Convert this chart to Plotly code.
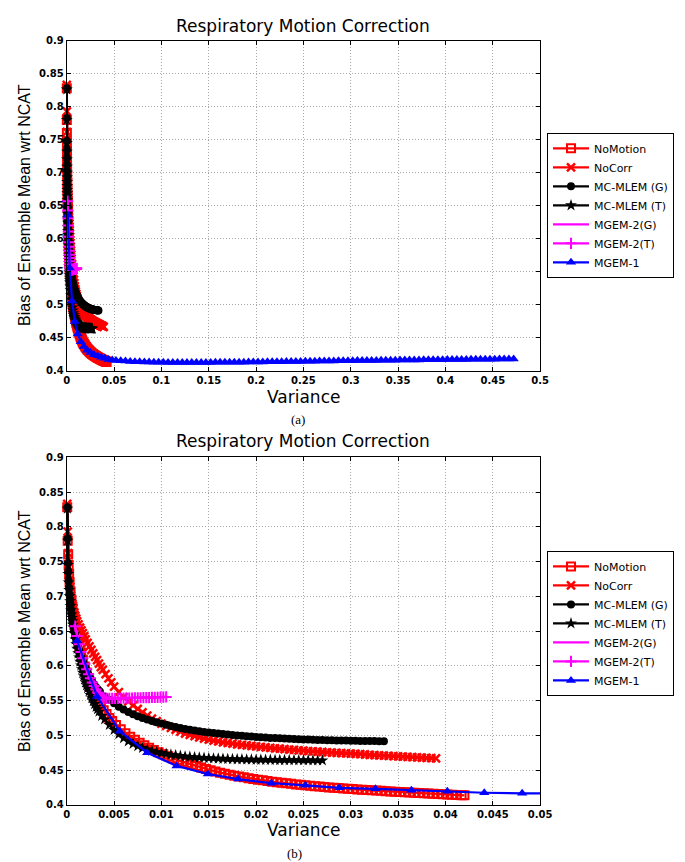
import plotly.graph_objects as go

# ---------------- data ----------------
nomotion_x = [0.00005, 0.0001, 0.00015, 0.0002, 0.00025, 0.0003, 0.0004, 0.0005, 0.0006, 0.0007,
              0.0008, 0.0009, 0.00105, 0.0012, 0.00135, 0.0015, 0.0017, 0.0019, 0.0021, 0.0023,
              0.00255, 0.0028, 0.00305, 0.0033, 0.0036, 0.0039, 0.0042, 0.0045, 0.0048,
              0.0052, 0.0057, 0.0062, 0.0067, 0.0072, 0.0077, 0.0082, 0.0087, 0.0092, 0.0097,
              0.0102, 0.0107, 0.0112, 0.0117, 0.0122, 0.0127, 0.0132, 0.0137, 0.0142, 0.0147,
              0.0152, 0.0157, 0.0162, 0.0167, 0.0172, 0.0177, 0.0182, 0.0187, 0.0192, 0.0197,
              0.0202, 0.0207, 0.0212, 0.0217, 0.0222, 0.0227, 0.0232, 0.0237, 0.0242, 0.0247,
              0.0252, 0.0257, 0.0262, 0.0267, 0.0272, 0.0277, 0.0282, 0.0287, 0.0292, 0.0297,
              0.0302, 0.0307, 0.0312, 0.0317, 0.0322, 0.0327, 0.0332, 0.0337, 0.0342, 0.0347,
              0.0352, 0.0357, 0.0362, 0.0367, 0.0372, 0.0377, 0.0382, 0.0387, 0.0392, 0.0397,
              0.0402, 0.0407, 0.0412, 0.0417, 0.0420]
nomotion_y = [0.828, 0.780, 0.760, 0.745, 0.732, 0.720, 0.707, 0.695, 0.685, 0.675,
              0.666, 0.657, 0.647, 0.637, 0.628, 0.619, 0.609, 0.599, 0.5905, 0.582,
              0.573, 0.564, 0.556, 0.548, 0.542, 0.536, 0.5305, 0.525, 0.5207,
              0.515, 0.5086, 0.503, 0.498, 0.4936, 0.4894, 0.4856, 0.482, 0.4787, 0.4756,
              0.4726, 0.4698, 0.467, 0.4646, 0.4622, 0.46, 0.4578, 0.4557, 0.4536, 0.4515,
              0.4497, 0.4479, 0.4463, 0.4447, 0.4432, 0.4419, 0.4407, 0.4395, 0.4384, 0.4372,
              0.4362, 0.4352, 0.4342, 0.4333, 0.4325, 0.4317, 0.4309, 0.4302, 0.4294, 0.4288,
              0.4281, 0.4275, 0.4268, 0.4262, 0.4257, 0.4251, 0.4246, 0.4241, 0.4236, 0.4231,
              0.4227, 0.4222, 0.4218, 0.4213, 0.4209, 0.4205, 0.4201, 0.4197, 0.4193, 0.4189,
              0.4186, 0.4182, 0.4178, 0.4174, 0.4170, 0.4167, 0.4163, 0.4160, 0.4156, 0.4153,
              0.4149, 0.4146, 0.4142, 0.4139, 0.4137]

nocorr_x = [0.00005, 0.0001, 0.00015, 0.0002, 0.00025, 0.0003, 0.00035, 0.0004, 0.00045, 0.0005,
            0.0006, 0.0007, 0.0008, 0.0009, 0.001, 0.0011, 0.00125, 0.0014, 0.00155, 0.0017,
            0.00185, 0.002, 0.0022, 0.0024, 0.0026, 0.0028, 0.003, 0.0032, 0.0034, 0.0036,
            0.0038, 0.0041, 0.0044, 0.0047, 0.005,
            0.0055, 0.006, 0.0065, 0.007, 0.0075, 0.008, 0.0085, 0.009, 0.0095, 0.01,
            0.0105, 0.011, 0.0115, 0.012, 0.0125, 0.013, 0.0135, 0.014, 0.0145, 0.015,
            0.0155, 0.016, 0.0165, 0.017, 0.0175, 0.018, 0.0185, 0.019, 0.0195, 0.02,
            0.0205, 0.021, 0.0215, 0.022, 0.0225, 0.023, 0.0235, 0.024, 0.0245, 0.025,
            0.0255, 0.026, 0.0265, 0.027, 0.0275, 0.028, 0.0285, 0.029, 0.0295, 0.03,
            0.0305, 0.031, 0.0315, 0.032, 0.0325, 0.033, 0.0335, 0.034, 0.0345, 0.035,
            0.0355, 0.036, 0.0365, 0.037, 0.0375, 0.038, 0.0385, 0.039]
nocorr_y = [0.833, 0.793, 0.762, 0.742, 0.731, 0.722, 0.714, 0.707, 0.701, 0.695,
            0.689, 0.683, 0.677, 0.672, 0.668, 0.664, 0.6595, 0.655, 0.651, 0.647,
            0.6425, 0.638, 0.633, 0.628, 0.623, 0.618, 0.613, 0.608, 0.603, 0.598,
            0.594, 0.588, 0.582, 0.576, 0.570,
            0.562, 0.555, 0.5487, 0.543, 0.538, 0.533, 0.5283, 0.524, 0.5203, 0.5168,
            0.5136, 0.5108, 0.508, 0.5052, 0.5026, 0.5006, 0.4987, 0.4969, 0.4952, 0.4939,
            0.4925, 0.4913, 0.49, 0.489, 0.488, 0.4871, 0.4863, 0.4855, 0.4848, 0.484,
            0.4833, 0.4826, 0.4819, 0.4813, 0.4807, 0.4801, 0.4795, 0.479, 0.4784, 0.4779,
            0.4774, 0.4769, 0.4765, 0.476, 0.4756, 0.4752, 0.4748, 0.4744, 0.474, 0.4736,
            0.4732, 0.4728, 0.4724, 0.472, 0.4716, 0.4712, 0.4708, 0.4704, 0.47, 0.4697,
            0.4693, 0.4689, 0.4686, 0.4683, 0.4679, 0.4676, 0.4673, 0.4669]

mcmlem_g_x = [0.00007, 0.0001, 0.00013, 0.00016, 0.0002, 0.00025, 0.0003, 0.00035, 0.0004, 0.00045,
              0.0005, 0.0006, 0.0007, 0.0008, 0.0009, 0.001, 0.0011, 0.0012, 0.0013, 0.0014,
              0.00155, 0.0017, 0.00185, 0.002, 0.00215, 0.0023, 0.0025, 0.0027, 0.0029, 0.0031,
              0.0033, 0.0035,
              0.004, 0.0045, 0.005, 0.0055, 0.006, 0.0065, 0.007, 0.0075, 0.008, 0.0085,
              0.009, 0.0095, 0.01, 0.0105, 0.011, 0.0115, 0.012, 0.0125, 0.013, 0.0135,
              0.014, 0.0145, 0.015, 0.0155, 0.016, 0.0165, 0.017, 0.0175, 0.018, 0.0185,
              0.019, 0.0195, 0.02, 0.0205, 0.021, 0.0215, 0.022, 0.0225, 0.023, 0.0235,
              0.024, 0.0245, 0.025, 0.0255, 0.026, 0.0265, 0.027, 0.0275, 0.028, 0.0285,
              0.029, 0.0295, 0.03, 0.0305, 0.031, 0.0315, 0.032, 0.0325, 0.033, 0.0335]
mcmlem_g_y = [0.828, 0.783, 0.748, 0.735, 0.722, 0.712, 0.703, 0.695, 0.688, 0.681,
              0.675, 0.665, 0.657, 0.65, 0.644, 0.638, 0.6325, 0.627, 0.6225, 0.618,
              0.612, 0.606, 0.601, 0.596, 0.5915, 0.587, 0.582, 0.577, 0.573, 0.569,
              0.566, 0.563,
              0.556, 0.551, 0.546, 0.541, 0.537, 0.5337, 0.5303, 0.5275, 0.525, 0.5226,
              0.5205, 0.5187, 0.5169, 0.5151, 0.5135, 0.5119, 0.5104, 0.509, 0.5079, 0.5068,
              0.5058, 0.5049, 0.5041, 0.5033, 0.5026, 0.5018, 0.5011, 0.5005, 0.4998, 0.4992,
              0.4987, 0.4982, 0.4977, 0.4972, 0.4968, 0.4963, 0.496, 0.4956, 0.4953, 0.4949,
              0.4946, 0.4943, 0.4941, 0.4938, 0.4936, 0.4934, 0.4932, 0.493, 0.4928, 0.4926,
              0.4925, 0.4924, 0.4922, 0.4921, 0.492, 0.4919, 0.4918, 0.4917, 0.4916, 0.4916]

mcmlem_t_x = [0.00007, 0.0001, 0.00013, 0.00016, 0.0002, 0.00025, 0.0003, 0.00035, 0.0004, 0.00045,
              0.0005, 0.00055, 0.0006, 0.00065, 0.0007, 0.0008, 0.0009, 0.001, 0.0011, 0.0012,
              0.0013, 0.0014, 0.0015, 0.0016, 0.0017, 0.0018, 0.0019, 0.002, 0.0021, 0.0022,
              0.00235, 0.0025, 0.00265, 0.0028, 0.00295, 0.0031, 0.00325, 0.0034, 0.0037,
              0.004, 0.0045, 0.005, 0.0055, 0.006, 0.0065, 0.007, 0.0075, 0.008, 0.0085,
              0.009, 0.0095, 0.01, 0.0105, 0.011, 0.0115, 0.012, 0.0125, 0.013, 0.0135,
              0.014, 0.0145, 0.015, 0.0155, 0.016, 0.0165, 0.017, 0.0175, 0.018, 0.0185,
              0.019, 0.0195, 0.02, 0.0205, 0.021, 0.0215, 0.022, 0.0225, 0.023, 0.0235,
              0.024, 0.0245, 0.025, 0.0255, 0.026, 0.0265, 0.027]
mcmlem_t_y = [0.826, 0.780, 0.745, 0.732, 0.720, 0.709, 0.700, 0.693, 0.686, 0.680,
              0.674, 0.669, 0.664, 0.659, 0.655, 0.646, 0.638, 0.631, 0.6245, 0.618,
              0.612, 0.606, 0.6005, 0.595, 0.590, 0.585, 0.5805, 0.576, 0.572, 0.568,
              0.563, 0.558, 0.5535, 0.549, 0.545, 0.541, 0.5375, 0.534, 0.528,
              0.5228, 0.515, 0.5078, 0.5016, 0.496, 0.4914, 0.4876, 0.4844, 0.4818, 0.4795,
              0.4776, 0.4759, 0.4745, 0.4733, 0.4722, 0.4713, 0.4704, 0.4696, 0.469, 0.4684,
              0.4679, 0.4675, 0.4671, 0.4667, 0.4664, 0.4662, 0.4659, 0.4657, 0.4655, 0.4654,
              0.4652, 0.4651, 0.4649, 0.4648, 0.4647, 0.4646, 0.4645, 0.4644, 0.4644, 0.4643,
              0.4643, 0.4642, 0.4641, 0.4641, 0.464, 0.464, 0.4639]

mgem2_g_x = [0.0008, 0.0012, 0.0016, 0.002, 0.0024, 0.0028, 0.0032, 0.0036, 0.004, 0.0045,
             0.005, 0.0055, 0.006, 0.0065, 0.007, 0.0075, 0.008, 0.0085, 0.009, 0.0095,
             0.01, 0.0106]
mgem2_g_y = [0.66, 0.635, 0.615, 0.598, 0.585, 0.573, 0.563, 0.557, 0.5545, 0.554,
             0.5538, 0.5538, 0.554, 0.554, 0.5542, 0.5543, 0.5545, 0.5546, 0.5548, 0.555,
             0.5551, 0.5553]

mgem2_t_x = [0.0009, 0.0011, 0.0013, 0.0015, 0.0017, 0.0019, 0.0021, 0.0023, 0.0025, 0.0027,
             0.0029, 0.0031, 0.0033, 0.0035, 0.0037,
             0.0039, 0.0042, 0.0045, 0.0048, 0.0051, 0.0054, 0.0057, 0.006, 0.0063, 0.0066,
             0.0069, 0.0072, 0.0075, 0.0078, 0.0081, 0.0084, 0.0087, 0.009, 0.0093, 0.0096,
             0.0099, 0.0102, 0.0105]
mgem2_t_y = [0.657, 0.643, 0.631, 0.62, 0.611, 0.603, 0.595, 0.588, 0.582, 0.576,
             0.571, 0.566, 0.561, 0.5575, 0.5548,
             0.5535, 0.553, 0.553, 0.553, 0.5531, 0.5532, 0.5533, 0.5534, 0.5535, 0.5536,
             0.5537, 0.5538, 0.5539, 0.554, 0.5541, 0.5542, 0.5543, 0.5545, 0.5546, 0.5547,
             0.5549, 0.555, 0.5552]

mgem1_x = [0.0011, 0.0032, 0.0056, 0.0085, 0.0116, 0.0149, 0.0181, 0.0216, 0.0252, 0.0288,
           0.0326, 0.0364, 0.0402, 0.0441, 0.0481,
           0.052, 0.057, 0.062, 0.067, 0.072, 0.077, 0.082, 0.087, 0.092, 0.097,
           0.102, 0.107, 0.112, 0.117, 0.122, 0.127, 0.132, 0.137, 0.142, 0.147,
           0.152, 0.157, 0.162, 0.167, 0.172, 0.177, 0.182, 0.187, 0.192, 0.197,
           0.202, 0.207, 0.212, 0.217, 0.222, 0.227, 0.232, 0.237, 0.242, 0.247,
           0.252, 0.257, 0.262, 0.267, 0.272, 0.277, 0.282, 0.287, 0.292, 0.297,
           0.302, 0.307, 0.312, 0.317, 0.322, 0.327, 0.332, 0.337, 0.342, 0.347,
           0.352, 0.357, 0.362, 0.367, 0.372, 0.377, 0.382, 0.387, 0.392, 0.397,
           0.402, 0.407, 0.412, 0.417, 0.422, 0.427, 0.432, 0.437, 0.442, 0.447,
           0.452, 0.457, 0.462, 0.467, 0.472]
mgem1_y = [0.636, 0.556, 0.506, 0.475, 0.456, 0.4443, 0.437, 0.4312, 0.428, 0.4245,
           0.423, 0.4208, 0.4194, 0.4174, 0.4165,
           0.4160, 0.4154, 0.4149, 0.4145, 0.4141, 0.4138, 0.4136, 0.4134, 0.4132, 0.4131,
           0.4130, 0.4129, 0.4129, 0.4128, 0.4128, 0.4128, 0.4128, 0.4128, 0.4128, 0.4129,
           0.4129, 0.4130, 0.4130, 0.4131, 0.4131, 0.4132, 0.4133, 0.4133, 0.4134, 0.4135,
           0.4136, 0.4137, 0.4138, 0.4139, 0.4140, 0.4141, 0.4142, 0.4143, 0.4144, 0.4145,
           0.4146, 0.4147, 0.4148, 0.4149, 0.4150, 0.4151, 0.4152, 0.4153, 0.4154, 0.4155,
           0.4156, 0.4157, 0.4158, 0.4158, 0.4159, 0.4160, 0.4161, 0.4162, 0.4163, 0.4163,
           0.4164, 0.4165, 0.4166, 0.4167, 0.4167, 0.4168, 0.4169, 0.4170, 0.4170, 0.4171,
           0.4172, 0.4173, 0.4173, 0.4174, 0.4175, 0.4176, 0.4176, 0.4177, 0.4178, 0.4178,
           0.4179, 0.4180, 0.4180, 0.4181, 0.4182]

series_names = ["NoMotion", "NoCorr", "MC-MLEM (G)", "MC-MLEM (T)", "MGEM-2(G)", "MGEM-2(T)", "MGEM-1"]

top_x_ticks = [0, 0.05, 0.1, 0.15, 0.2, 0.25, 0.3, 0.35, 0.4, 0.45, 0.5]
top_x_labels = ["0", "0.05", "0.1", "0.15", "0.2", "0.25", "0.3", "0.35", "0.4", "0.45", "0.5"]
bot_x_ticks = [0, 0.005, 0.01, 0.015, 0.02, 0.025, 0.03, 0.035, 0.04, 0.045, 0.05]
bot_x_labels = ["0", "0.005", "0.01", "0.015", "0.02", "0.025", "0.03", "0.035", "0.04", "0.045", "0.05"]
y_ticks = [0.4, 0.45, 0.5, 0.55, 0.6, 0.65, 0.7, 0.75, 0.8, 0.85, 0.9]
y_labels = ["0.4", "0.45", "0.5", "0.55", "0.6", "0.65", "0.7", "0.75", "0.8", "0.85", "0.9"]

title_text = "Respiratory Motion Correction"
xlabel_text = "Variance"
ylabel_text = "Bias of Ensemble Mean wrt NCAT"

# ---------------- styles ----------------
W, H = 685, 862


def fx(p):
    return p / W


def fy(p):
    return 1 - p / H


styles = [
    dict(color="#ff0000", symbol="square-open", size=8, mlw=2, mode="lines+markers"),
    dict(color="#ff0000", symbol="x-thin", size=8, mlw=2.5, mode="lines+markers"),
    dict(color="#000000", symbol="circle", size=8, mlw=0, mode="lines+markers"),
    dict(color="#000000", symbol="star", size=9, mlw=0, mode="lines+markers"),
    dict(color="#ff00ff", symbol="circle", size=6, mlw=0, mode="lines"),
    dict(color="#ff00ff", symbol="cross-thin", size=8, mlw=2, mode="lines+markers"),
    dict(color="#0000ff", symbol="triangle-up", size=9, mlw=0, mode="lines+markers"),
]
data_xy = [
    (nomotion_x, nomotion_y), (nocorr_x, nocorr_y), (mcmlem_g_x, mcmlem_g_y),
    (mcmlem_t_x, mcmlem_t_y), (mgem2_g_x, mgem2_g_y), (mgem2_t_x, mgem2_t_y),
    (mgem1_x, mgem1_y),
]

fig = go.Figure()
panels = [("x", "y", "legend", 0.5), ("x2", "y2", "legend2", 0.05)]
for xa, ya, leg, xmax in panels:
    for name, (xs, ys), st in zip(series_names, data_xy, styles):
        clip = max(xs) > xmax
        fig.add_trace(go.Scatter(
            x=xs, y=ys, name=name, xaxis=xa, yaxis=ya, legend=leg,
            mode=st["mode"], cliponaxis=clip,
            line=dict(color=st["color"], width=2.2),
            marker=dict(symbol=st["symbol"], size=st["size"], color=st["color"],
                        line=dict(color=st["color"], width=st["mlw"])),
        ))

tickfont = dict(family="DejaVu Sans", size=10, color="black", weight="bold")
common_axis = dict(
    showline=True, linecolor="black", linewidth=1, mirror="ticks",
    ticks="inside", ticklen=4, tickcolor="black", tickwidth=1,
    showgrid=True, gridcolor="#a8a8a8", griddash="1px,2px", gridwidth=1,
    zeroline=False, tickfont=tickfont,
)
xdom = [fx(57), fx(541)]

legend_common = dict(xanchor="left", yanchor="middle", bordercolor="black", borderwidth=1,
                     bgcolor="white", itemwidth=36,
                     font=dict(family="DejaVu Sans", size=11, color="black"))

fig.update_layout(
    width=W, height=H, margin=dict(l=0, r=0, t=0, b=0),
    paper_bgcolor="white", plot_bgcolor="white",
    xaxis=dict(domain=xdom, anchor="y", range=[0, 0.5], tickvals=top_x_ticks,
               ticktext=top_x_labels, **common_axis),
    yaxis=dict(domain=[fy(362), fy(27)], anchor="x", range=[0.4, 0.9], tickvals=y_ticks,
               ticktext=y_labels, **common_axis),
    xaxis2=dict(domain=xdom, anchor="y2", range=[0, 0.05], tickvals=bot_x_ticks,
                ticktext=bot_x_labels, **common_axis),
    yaxis2=dict(domain=[fy(802), fy(449.5)], anchor="x2", range=[0.4, 0.9], tickvals=y_ticks,
                ticktext=y_labels, **common_axis),
    legend=dict(x=fx(548), y=fy(194), **legend_common),
    legend2=dict(x=fx(548), y=fy(618), **legend_common),
    showlegend=True,
)

title_font = dict(family="DejaVu Sans", size=17, color="black")
ylab_font = dict(family="Liberation Sans", size=16, color="black")
cap_font = dict(family="Liberation Serif", size=13, color="black")
annots = [
    dict(text=title_text, x=fx(299), y=fy(12), font=title_font),
    dict(text=title_text, x=fx(299), y=fy(433), font=title_font),
    dict(text=xlabel_text, x=fx(299), y=fy(388), font=title_font),
    dict(text=xlabel_text, x=fx(299), y=fy(828), font=title_font),
    dict(text="(a)", x=fx(293), y=fy(411), font=cap_font),
    dict(text="(b)", x=fx(290), y=fy(851), font=cap_font),
    dict(text=ylabel_text, x=fx(14), y=fy(194), font=ylab_font, textangle=-90),
    dict(text=ylabel_text, x=fx(14), y=fy(626), font=ylab_font, textangle=-90),
]
for a in annots:
    fig.add_annotation(xref="paper", yref="paper", xanchor="center", yanchor="middle",
                       showarrow=False, **a)

fig.write_html("out.html")
